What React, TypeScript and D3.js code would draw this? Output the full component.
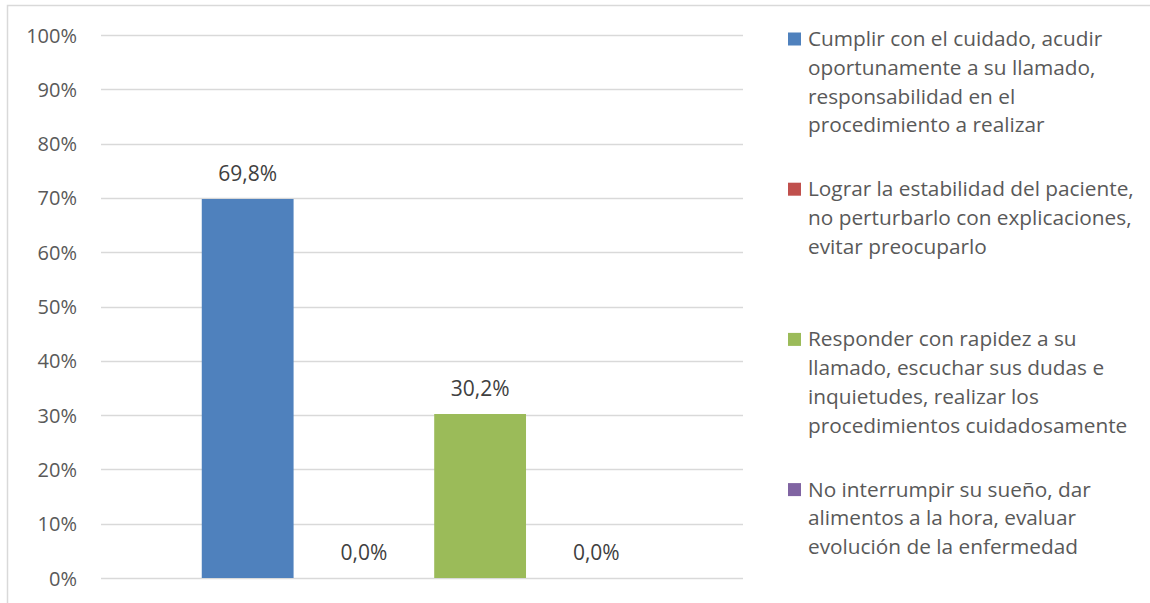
import React from "react";
import * as d3 from "d3";

// Series (one per legend entry), drawn as side-by-side bars in a single group
const seriesKeys = ["s1", "s2", "s3", "s4"];
const seriesValues = [69.8, 0.0, 30.2, 0.0];
const seriesColors = ["#4f81bd", "#c0504d", "#9bbb59", "#8064a2"];
const seriesLabelLines = [
  ["Cumplir con el cuidado, acudir", "oportunamente a su llamado,", "responsabilidad en el", "procedimiento a realizar"],
  ["Lograr la estabilidad del paciente,", "no perturbarlo con explicaciones,", "evitar preocuparlo"],
  ["Responder con rapidez a su", "llamado, escuchar sus dudas e", "inquietudes, realizar los", "procedimientos cuidadosamente"],
  ["No interrumpir su sueño, dar", "alimentos a la hora, evaluar", "evolución de la enfermedad"],
];
const yTicks = [0, 10, 20, 30, 40, 50, 60, 70, 80, 90, 100];

const W = 1150;
const H = 603;
const FONT = "'Open Sans', sans-serif";
const TEXT = "#595959";

export default function App() {
  const y = d3.scaleLinear().domain([0, 100]).range([578, 35]);
  const x = d3
    .scaleBand<string>()
    .domain(seriesKeys)
    .range([101, 743])
    .paddingInner(0.21)
    .paddingOuter(0.867);

  const fmtTick = (v: number) => `${v}%`;
  const fmtLabel = (v: number) => d3.format(".1f")(v).replace(".", ",") + "%";

  const legendX = 788;
  const legendTop = 46;
  const legendStep = 150.2;
  const lineH = 28.8;

  return (
    <svg
      width={W}
      height={H}
      style={{ position: "absolute", left: 0, top: 0, background: "#fff" }}
      fontFamily={FONT}
    >
      <rect x={0} y={0} width={W} height={H} fill="#fff" />
      {/* chart frame */}
      <rect x={7.5} y={5.5} width={W + 20} height={H + 20} fill="none" stroke="#d9d9d9" strokeWidth={1.5} />

      {/* gridlines and y tick labels */}
      {yTicks.map((t) => (
        <g key={t}>
          <line x1={101} x2={743} y1={Math.round(y(t)) + 0.5} y2={Math.round(y(t)) + 0.5} stroke="#d9d9d9" strokeWidth={1.5} />
          <text x={77} y={y(t) + 7.5} textAnchor="end" fontSize={20} fill={TEXT}>
            {fmtTick(t)}
          </text>
        </g>
      ))}

      {/* bars */}
      {seriesKeys.map((k, i) => (
        <rect
          key={k}
          x={x(k)}
          y={y(seriesValues[i])}
          width={x.bandwidth()}
          height={y(0) - y(seriesValues[i])}
          fill={seriesColors[i]}
        />
      ))}

      {/* data labels */}
      {seriesKeys.map((k, i) => (
        <text
          key={k}
          x={(x(k) as number) + x.bandwidth() / 2}
          y={y(seriesValues[i]) - 18}
          textAnchor="middle"
          fontSize={21}
          fill="#404040"
        >
          {fmtLabel(seriesValues[i])}
        </text>
      ))}

      {/* legend */}
      {seriesKeys.map((k, i) => {
        const base = legendTop + i * legendStep;
        return (
          <g key={k}>
            <rect x={legendX} y={base - 13.5} width={13} height={13} fill={seriesColors[i]} />
            {seriesLabelLines[i].map((ln, j) => (
              <text key={j} x={808} y={base + j * lineH} fontSize={20.8} fill={TEXT}>
                {ln}
              </text>
            ))}
          </g>
        );
      })}
    </svg>
  );
}
